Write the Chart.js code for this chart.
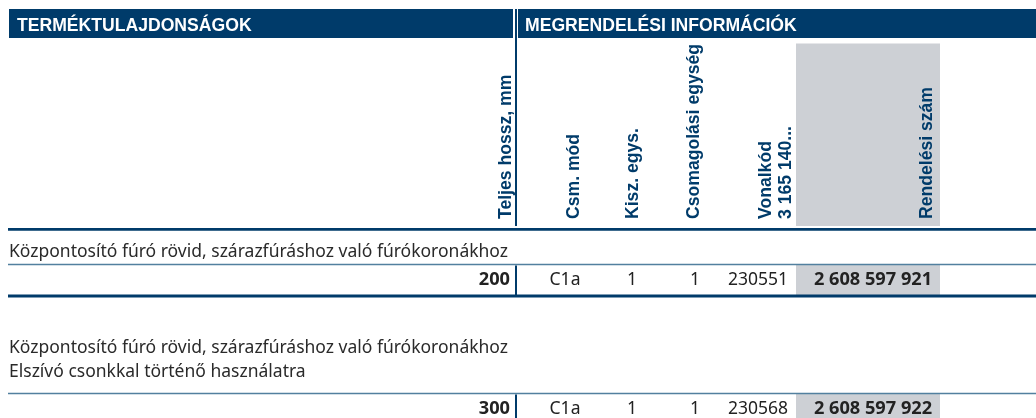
<!DOCTYPE html>
<html>
<head>
<meta charset="utf-8">
<script src="https://cdn.jsdelivr.net/npm/chart.js@4.4.1/dist/chart.umd.min.js"></script>
<style>
html, body { margin: 0; padding: 0; background: #fff; }
canvas { display: block; }
</style>
</head>
<body>
<canvas id="c" width="1036" height="418"></canvas>
<script>
// ---------- data ----------
const groupHeaders = ['TERMÉKTULAJDONSÁGOK', 'MEGRENDELÉSI INFORMÁCIÓK'];
const columnHeaders = [
  ['Teljes hossz, mm'],
  ['Csm. mód'],
  ['Kisz. egys.'],
  ['Csomagolási egység'],
  ['Vonalkód', '3 165 140...'],
  ['Rendelési szám']
];
const rowDescriptions = [
  ['Központosító fúró rövid, szárazfúráshoz való fúrókoronákhoz'],
  ['Központosító fúró rövid, szárazfúráshoz való fúrókoronákhoz', 'Elszívó csonkkal történő használatra']
];
const totalLengths = [200, 300];
const packModes = ['C1a', 'C1a'];
const salesUnits = [1, 1];
const packUnits = [1, 1];
const barcodes = ['230551', '230568'];
const orderNumbers = ['2 608 597 921', '2 608 597 922'];

// ---------- layout & style ----------
const NAVY = '#003b6a';
const RULE_LIGHT = '#52809f';
const GREY = '#cdd0d5';
const TEXT = '#222222';
const GROUP_FONT = 'bold 17.6px "Liberation Sans", Arial, sans-serif';
const COL_FONT = 'bold 17.6px "Liberation Sans", Arial, sans-serif';
const BODY_FONT = '17.5px "Noto Sans", sans-serif';
const BOLD_NUM_FONT = 'bold 18.2px "Noto Sans", sans-serif';

const layout = {
  left: 8, right: 1036,
  barTop: 9, barBottom: 38, leftBarEnd: 513, splitX: 516, rightBarStart: 518,
  groupTextX: [17, 525], groupBaseline: 30.8,
  headRuleY: 229.3, splitLineEnd: 226,
  colBaselineX: [[511], [579], [638], [699], [771, 791], [932]],
  colTextBottom: 219,
  greyX: [796, 940], greyHeadTop: 43.5,
  rowDescY: [[252], [348, 372]],
  rowRuleY: [264.5, 393.5],
  rowHeight: 31,
  cellX: { length: 510, packMode: 565, salesUnit: 632, packUnit: 695, barcode: 788, order: 873 }
};

const tablePlugin = {
  id: 'tablePlugin',
  afterDraw(chart) {
    const ctx = chart.ctx;
    const sx = v => chart.scales.x.getPixelForValue(v);
    const sy = v => chart.scales.y.getPixelForValue(v);
    const L = layout;
    ctx.save();

    // group header bars
    ctx.fillStyle = NAVY;
    ctx.fillRect(sx(9), sy(L.barTop), sx(L.leftBarEnd) - sx(9), sy(L.barBottom) - sy(L.barTop));
    ctx.fillRect(sx(L.rightBarStart), sy(L.barTop), sx(L.right) - sx(L.rightBarStart), sy(L.barBottom) - sy(L.barTop));
    ctx.fillStyle = '#ffffff';
    ctx.font = GROUP_FONT;
    ctx.textBaseline = 'alphabetic';
    ctx.textAlign = 'left';
    groupHeaders.forEach((t, i) => ctx.fillText(t, sx(L.groupTextX[i]), sy(L.groupBaseline)));

    // grey order-number column (header part)
    ctx.fillStyle = GREY;
    ctx.fillRect(sx(L.greyX[0]), sy(L.greyHeadTop), sx(L.greyX[1]) - sx(L.greyX[0]), sy(L.splitLineEnd) - sy(L.greyHeadTop));

    // split line in header area
    ctx.fillStyle = NAVY;
    ctx.fillRect(sx(L.splitX - 1), sy(L.barTop), 2, sy(L.splitLineEnd) - sy(L.barTop));

    // rotated column headers
    ctx.fillStyle = NAVY;
    ctx.font = COL_FONT;
    columnHeaders.forEach((lines, i) => {
      lines.forEach((t, j) => {
        ctx.save();
        ctx.translate(sx(L.colBaselineX[i][j]), sy(L.colTextBottom));
        ctx.rotate(-Math.PI / 2);
        ctx.textAlign = 'left';
        ctx.textBaseline = 'alphabetic';
        ctx.fillText(t, 0, 0);
        ctx.restore();
      });
    });

    // header rule
    ctx.strokeStyle = NAVY;
    ctx.lineWidth = 2.7;
    ctx.beginPath();
    ctx.moveTo(sx(L.left), sy(L.headRuleY));
    ctx.lineTo(sx(L.right), sy(L.headRuleY));
    ctx.stroke();

    // rows
    rowDescriptions.forEach((desc, r) => {
      ctx.fillStyle = '#2a2a2a';
      ctx.font = BODY_FONT;
      ctx.textAlign = 'left';
      ctx.textBaseline = 'middle';
      desc.forEach((t, k) => ctx.fillText(t, sx(9), sy(L.rowDescY[r][k])));

      const top = L.rowRuleY[r];
      const bottom = top + L.rowHeight;
      const mid = top + L.rowHeight / 2;

      // grey cell
      ctx.fillStyle = GREY;
      ctx.fillRect(sx(L.greyX[0]), sy(top), sx(L.greyX[1]) - sx(L.greyX[0]), sy(Math.min(bottom, 418)) - sy(top));

      // thin rule
      ctx.strokeStyle = RULE_LIGHT;
      ctx.lineWidth = 1.6;
      ctx.beginPath();
      ctx.moveTo(sx(L.left), sy(top));
      ctx.lineTo(sx(L.right), sy(top));
      ctx.stroke();

      // vertical split
      ctx.fillStyle = NAVY;
      ctx.fillRect(sx(L.splitX - 1), sy(top + 1), 2, sy(bottom) - sy(top + 1));

      // bottom rule
      ctx.strokeStyle = NAVY;
      ctx.lineWidth = 2.8;
      ctx.beginPath();
      ctx.moveTo(sx(L.left), sy(bottom + 0.5));
      ctx.lineTo(sx(L.right), sy(bottom + 0.5));
      ctx.stroke();

      // cells
      ctx.textBaseline = 'middle';
      ctx.fillStyle = TEXT;
      ctx.font = BOLD_NUM_FONT;
      ctx.textAlign = 'right';
      ctx.fillText(String(totalLengths[r]), sx(L.cellX.length), sy(mid));
      ctx.font = BODY_FONT;
      ctx.textAlign = 'center';
      ctx.fillText(packModes[r], sx(L.cellX.packMode), sy(mid));
      ctx.fillText(String(salesUnits[r]), sx(L.cellX.salesUnit), sy(mid));
      ctx.fillText(String(packUnits[r]), sx(L.cellX.packUnit), sy(mid));
      ctx.textAlign = 'right';
      ctx.fillText(barcodes[r], sx(L.cellX.barcode), sy(mid));
      ctx.font = BOLD_NUM_FONT;
      ctx.textAlign = 'center';
      ctx.fillText(orderNumbers[r], sx(L.cellX.order), sy(mid));
    });

    ctx.restore();
  }
};

new Chart(document.getElementById('c'), {
  type: 'scatter',
  data: { datasets: [{ data: [], pointRadius: 0 }] },
  options: {
    responsive: false,
    animation: false,
    events: [],
    layout: { padding: 0 },
    plugins: { legend: { display: false }, tooltip: { enabled: false } },
    scales: {
      x: { type: 'linear', min: 0, max: 1036, display: false },
      y: { type: 'linear', min: 0, max: 418, reverse: true, display: false }
    }
  },
  plugins: [tablePlugin]
});
</script>
</body>
</html>
